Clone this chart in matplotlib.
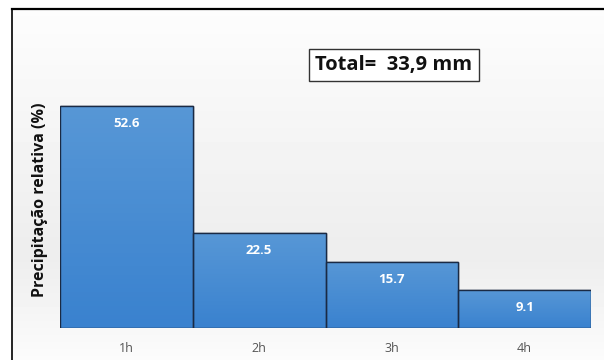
import numpy as np
import matplotlib
matplotlib.use("Agg")
import matplotlib.pyplot as plt
from matplotlib.colors import LinearSegmentedColormap

categories = ["1h", "2h", "3h", "4h"]
values = [52.6, 22.5, 15.7, 9.1]
ylabel = "Precipitação relativa (%)"
total_text = "Total=  33,9 mm"

plt.rcParams['font.family'] = ['Open Sans', 'DejaVu Sans']

fig = plt.figure(figsize=(6.04, 3.6), dpi=100)

# background with soft grey gradient
bg = fig.add_axes([12 / 604, 0, 1 - 12 / 604, 1 - 9 / 360])
grad = np.concatenate([np.linspace(0.99, 0.93, 70), np.linspace(0.93, 0.985, 30)])
bg.imshow(grad[:, None], cmap="gray", vmin=0, vmax=1, aspect="auto",
          extent=[0, 1, 0, 1])
bg.set_xlim(0, 1)
bg.set_ylim(0, 1)
bg.set_xticks([])
bg.set_yticks([])
for s in ["right", "bottom"]:
    bg.spines[s].set_visible(False)
bg.spines["top"].set_linewidth(1.6)
bg.spines["left"].set_linewidth(1.2)

ylim_top = 60
px_per_unit = (328 - 106) / 52.6
top_px = 328 - ylim_top * px_per_unit
ax = fig.add_axes([60 / 604, 32 / 360, (591 - 60) / 604, (328 - top_px) / 360])
ax.patch.set_alpha(0)

x = np.arange(len(categories))
bars = ax.bar(x, values, width=1.0, color="#4a8fd6", edgecolor="#1a2a44",
              linewidth=1.0, zorder=2)

cmap = LinearSegmentedColormap.from_list("bar", ["#3a82cf", "#5797d6"])
for b in bars:
    gx, gy = b.get_x(), b.get_y()
    im = ax.imshow(np.linspace(0, 1, 50)[:, None], cmap=cmap, aspect="auto",
                   origin="lower", extent=[gx, gx + b.get_width(), gy, gy + b.get_height()],
                   zorder=2)
    im.set_clip_path(b)

# redraw edges on top
ax.bar(x, values, width=1.0, color="none", edgecolor="#1a2a44", linewidth=1.0, zorder=3)

for xi, v in zip(x, values):
    ax.text(xi, v - 2.6, f"{v}", ha="center", va="top", color="white",
            fontsize=9.5, fontweight="bold", zorder=4)

ax.set_xlim(-0.5, len(categories) - 0.5)
ax.set_ylim(0, ylim_top)
ax.set_xticks(x)
ax.set_xticklabels(categories, color="#555555", fontsize=9)
ax.tick_params(axis="x", length=0, pad=10)
ax.set_yticks([])
for s in ax.spines.values():
    s.set_visible(False)

fig.text(40 / 604, 1 - 200 / 360, ylabel, rotation=90, ha="center", va="center",
         fontsize=11.5, fontweight="bold", color="#111111")

fig.text(394 / 604, 1 - 65 / 360, total_text, ha="center", va="center",
         fontsize=14.5, fontweight="bold", color="#111111",
         bbox=dict(boxstyle="square,pad=0.3", facecolor="white", edgecolor="#333333", linewidth=1))

fig.savefig("out.png", dpi=100)
